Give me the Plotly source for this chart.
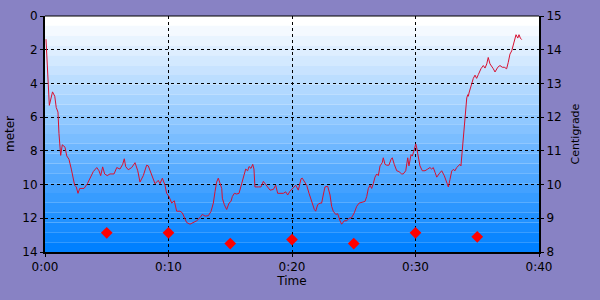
import plotly.graph_objects as go

# Depth profile (time in minutes, depth in meters)
time_min = [0.08, 0.19, 0.27, 0.35, 0.61, 0.79, 0.91, 1.05, 1.13, 1.21, 1.27, 1.40, 1.62, 1.76, 1.94,
            2.13, 2.29, 2.40, 2.53, 2.67, 2.81, 3.16, 3.43, 3.70, 3.91, 4.19, 4.37, 4.51, 4.67, 4.83,
            5.04, 5.26, 5.59, 5.81, 6.07, 6.29, 6.42, 6.53, 6.74, 7.02, 7.29, 7.51, 7.69, 7.96, 8.23,
            8.36, 8.64, 8.91, 9.17, 9.31, 9.50, 9.72, 9.85, 10.04, 10.26, 10.47, 10.66, 10.93, 11.12,
            11.28, 11.47, 11.74, 12.01, 12.28, 12.55, 12.74, 12.96, 13.22, 13.44, 13.63, 13.77, 13.90,
            14.03, 14.17, 14.31, 14.36, 14.52, 14.71, 14.90, 15.06, 15.17, 15.33, 15.52, 15.71, 15.87,
            15.98, 16.14, 16.25, 16.41, 16.52, 16.68, 16.82, 16.92, 17.00, 17.27, 17.49, 17.68, 17.81,
            18.03, 18.22, 18.49, 18.68, 18.84, 19.03, 19.30, 19.49, 19.65, 19.84, 20.02, 20.30, 20.51,
            20.73, 20.83, 21.00, 21.19, 21.38, 21.60, 21.81, 21.92, 22.08, 22.27, 22.40, 22.53, 22.67,
            22.89, 23.08, 23.21, 23.34, 23.54, 23.70, 23.89, 24.02, 24.23, 24.43, 24.62, 24.83, 25.04,
            25.24, 25.43, 25.69, 25.91, 26.05, 26.18, 26.32, 26.45, 26.58, 26.72, 26.86, 26.99, 27.13,
            27.31, 27.39, 27.53, 27.67, 27.85, 28.02, 28.12, 28.28, 28.48, 28.66, 28.88, 29.01, 29.21,
            29.37, 29.47, 29.64, 29.74, 29.90, 30.02, 30.10, 30.23, 30.36, 30.55, 30.77, 30.99, 31.17,
            31.31, 31.44, 31.58, 31.72, 31.90, 32.12, 32.33, 32.53, 32.66, 32.79, 32.93, 33.06, 33.20,
            33.33, 33.47, 33.60, 33.68, 33.79, 33.87, 33.95, 34.06, 34.15, 34.23, 34.28, 34.33, 34.41,
            34.55, 34.68, 34.82, 34.95, 35.09, 35.30, 35.49, 35.63, 35.77, 35.89, 36.03, 36.17, 36.30,
            36.44, 36.66, 36.84, 37.03, 37.19, 37.38, 37.51, 37.65, 37.79, 37.92, 38.06, 38.14, 38.28,
            38.38, 38.49, 38.60]
depth_m = [1.38, 3.4, 4.67, 5.3, 4.5, 4.76, 5.43, 5.7, 6.97, 8.12, 8.27, 7.64, 7.78, 8.3, 8.5,
           9.08, 9.66, 10.04, 10.14, 10.52, 10.23, 10.23, 9.95, 9.56, 9.23, 8.99, 9.18, 9.47, 8.95, 9.37,
           9.47, 9.37, 9.37, 8.99, 9.08, 8.8, 8.47, 8.93, 9.12, 8.99, 8.7, 9.18, 9.85, 9.47, 8.85,
           8.89, 9.47, 9.95, 9.75, 9.95, 9.62, 10.04, 10.52, 10.71, 11.1, 10.96, 11.58, 11.58, 11.68,
           11.96, 12.25, 12.35, 12.25, 12.15, 11.96, 11.77, 11.87, 11.85, 11.6, 11.1, 10.4, 9.85,
           9.62, 9.95, 10.23, 10.81, 11.19, 11.48, 11.1, 11.0, 10.71, 10.52, 10.56, 10.52, 10.04,
           9.75, 9.37, 9.08, 9.18, 8.93, 9.04, 8.8, 9.08, 10.14, 10.14, 10.14, 9.81, 9.95,
           10.14, 10.33, 10.29, 10.04, 10.52, 10.52, 10.52, 10.43, 10.62, 10.39, 10.23, 10.04, 10.33,
           9.66, 9.62, 9.85, 10.04, 10.52, 11.0, 11.48, 11.58, 11.19, 11.1, 11.1, 10.62, 10.14,
           10.1, 10.62, 11.29, 11.58, 11.77, 11.73, 12.15, 12.35, 12.15, 12.15, 12.0, 11.96, 11.68,
           11.29, 11.1, 11.04, 11.0, 10.71, 10.23, 10.04, 10.23, 9.95, 9.56, 9.37, 9.47, 8.89,
           8.7, 8.41, 8.8, 8.85, 8.85, 8.5, 8.41, 8.8, 9.18, 9.23, 9.37, 9.37, 9.18,
           8.41, 8.89, 8.22, 8.31, 7.93, 7.59, 7.83, 8.5, 8.89, 9.18, 9.18, 9.08, 8.99,
           9.08, 8.99, 9.27, 9.56, 9.37, 9.18, 9.47, 9.9, 10.14, 9.7, 9.2, 9.1, 9.18,
           8.99, 8.89, 8.8, 8.89, 7.93, 7.16, 6.39, 5.63, 4.86, 4.67, 4.76, 4.57, 4.38,
           3.99, 3.7, 3.51, 3.7, 3.47, 3.13, 2.94, 3.09, 2.84, 2.46, 2.84, 3.04, 3.13,
           3.32, 3.04, 2.94, 3.04, 3.04, 3.13, 2.75, 2.26, 2.07, 1.69, 1.31, 1.11, 1.31,
           1.11, 1.31, 1.4]

# Temperature samples
temp_time_min = [5, 10, 15, 20, 25, 30, 35]
temp_c = [8.57, 8.57, 8.25, 8.37, 8.25, 8.57, 8.45]

x_tickvals = [0, 10, 20, 30, 40]
x_ticktext = ["0:00", "0:10", "0:20", "0:30", "0:40"]

FONT = "DejaVu Sans"

fig = go.Figure()
fig.add_trace(go.Scatter(x=time_min, y=depth_m, mode="lines",
                         line=dict(color="#D81030", width=1), yaxis="y", showlegend=False))
fig.add_trace(go.Scatter(x=temp_time_min, y=temp_c, mode="markers",
                         marker=dict(symbol="diamond", size=9, color="#FF0000"),
                         yaxis="y2", showlegend=False))

# banded vertical gradient background (white -> blue)
nb = 24
shapes = []
for i in range(nb):
    f = i / (nb - 1)
    r = int(round(255 * (1 - f)))
    g = int(round(255 - (255 - 128) * f))
    shapes.append(dict(type="rect", xref="x domain", yref="y domain",
                       x0=0, x1=1, y0=1 - (i + 1) / nb, y1=1 - i / nb,
                       fillcolor=f"rgb({r},{g},255)", line=dict(width=0), layer="below"))
shapes.append(dict(type="line", xref="x domain", yref="y domain", x0=0, x1=1, y0=1, y1=1,
                   line=dict(color="black", width=1)))

fig.update_layout(
    width=600, height=300,
    margin=dict(l=45, r=61, t=9, b=48),
    paper_bgcolor="#8882C4", plot_bgcolor="white",
    font=dict(family=FONT, size=12, color="black"),
    shapes=shapes,
    xaxis=dict(range=[0, 40], tickvals=x_tickvals, ticktext=x_ticktext,
               showgrid=True, gridcolor="black", griddash="3px,3px", gridwidth=1,
               showline=True, linecolor="black", linewidth=2,
               ticks="outside", ticklen=3, tickcolor="black",
               title=dict(text="Time", standoff=3, font=dict(size=12)), zeroline=False),
    yaxis=dict(range=[14, 0], dtick=2, showgrid=True, gridcolor="black",
               griddash="3px,3px", gridwidth=1,
               showline=True, linecolor="black", linewidth=2,
               ticks="outside", ticklen=3, tickcolor="black",
               title=dict(text="meter", standoff=5, font=dict(size=12)), zeroline=False),
    yaxis2=dict(range=[8, 15], dtick=1, overlaying="y", side="right", showgrid=False,
                showline=True, linecolor="black", linewidth=2,
                ticks="outside", ticklen=3, tickcolor="black",
                title=dict(text="Centigrade", standoff=11, font=dict(size=11)), zeroline=False),
)

fig.write_html("out.html")
